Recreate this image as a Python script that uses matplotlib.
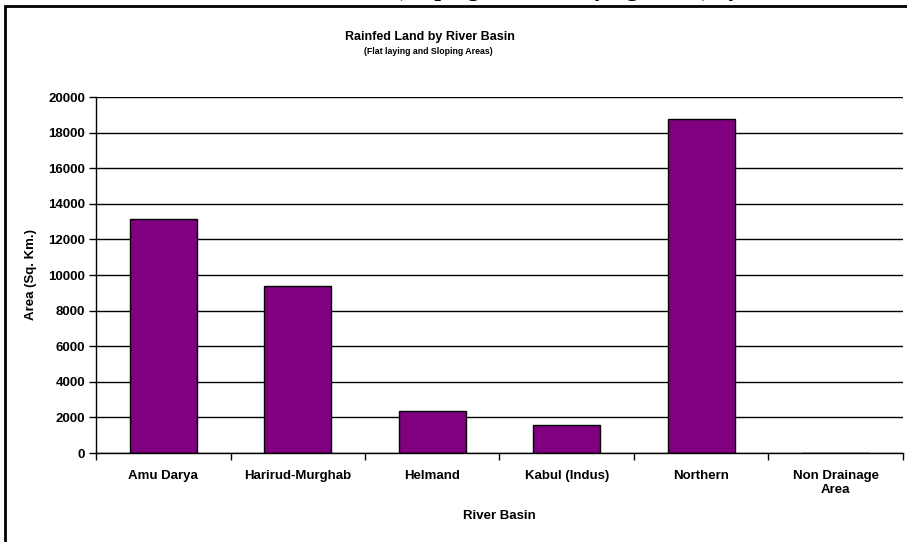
import matplotlib.pyplot as plt
import numpy as np
from matplotlib.patches import Rectangle

# data
basins = ['Amu Darya', 'Harirud-Murghab', 'Helmand', 'Kabul (Indus)', 'Northern', 'Non Drainage\nArea']
area_sqkm = [13150, 9380, 2350, 1560, 18760, 0]
y_ticks = [0, 2000, 4000, 6000, 8000, 10000, 12000, 14000, 16000, 18000, 20000]

plt.rcParams['font.family'] = ['Liberation Sans', 'DejaVu Sans']

W, H = 907, 542
fig = plt.figure(figsize=(W / 100, H / 100), dpi=100)
fig.patch.set_facecolor('white')

# page frame (cut off on the right and bottom)
fig.add_artist(Rectangle((5 / W, -0.1), 1.2, 1 - 6 / H + 0.1, transform=fig.transFigure,
                         fill=False, edgecolor='black', linewidth=2))

# cropped heading above the frame
fig.text(395 / W, 1 + 4 / H, '(Sloping and Flat laying Areas) by River Basin',
         family='Liberation Serif', fontweight='bold', fontsize=17, ha='left', va='baseline')

ax = fig.add_axes([96 / W, 1 - 453 / H, (903 - 96) / W, (453 - 97) / H])

x = np.arange(len(basins))
ax.bar(x, area_sqkm, width=0.5, color='#800080', edgecolor='black', linewidth=1, zorder=3)

ax.set_xlim(-0.5, len(basins) - 0.5)
ax.set_ylim(0, 20000)
ax.set_yticks(y_ticks)
ax.set_yticklabels([str(v) for v in y_ticks], fontsize=9.5, fontweight='bold')
ax.set_xticks(x)
ax.set_xticklabels(basins, fontsize=9.5, fontweight='bold', linespacing=1.3)
ax.set_xticks(np.arange(len(basins) + 1) - 0.5, minor=True)
ax.tick_params(axis='x', which='major', length=0, pad=12)
ax.tick_params(axis='x', which='minor', length=5, width=1, direction='out')
ax.tick_params(axis='y', length=5, width=1, direction='out', pad=3)

ax.grid(axis='y', color='black', linewidth=1, zorder=0)
for side in ['top', 'right']:
    ax.spines[side].set_visible(False)
for side in ['left', 'bottom']:
    ax.spines[side].set_linewidth(1)
    ax.spines[side].set_zorder(4)

ax.set_ylabel('Area (Sq. Km.)', fontsize=9.5, fontweight='bold', labelpad=8)
ax.set_xlabel('River Basin', fontsize=9.5, fontweight='bold', labelpad=10)

fig.text(430 / W, 1 - 37 / H, 'Rainfed Land by River Basin', fontsize=9, fontweight='bold',
         ha='center', va='center')
fig.text(428 / W, 1 - 52 / H, '(Flat laying and Sloping Areas)', fontsize=6.3, fontweight='bold',
         ha='center', va='center')

plt.savefig('out.png', dpi=100)
